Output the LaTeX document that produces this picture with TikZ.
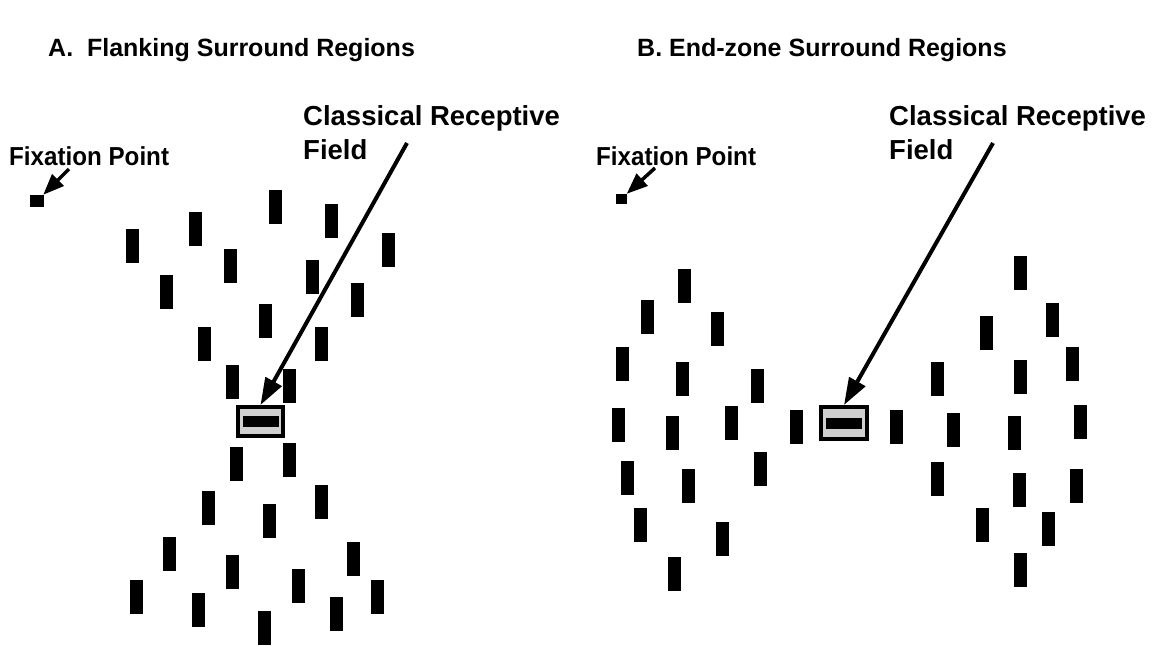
\documentclass[tikz,border=0pt]{standalone}
\usepackage{fontspec}
\setmainfont{Liberation Sans}
\newfontfamily\narrowfont[FakeStretch=0.93]{Liberation Sans}
\usetikzlibrary{arrows.meta}

\tikzset{
    lbl/.style={inner sep=0pt, font=\bfseries\fontsize{27.5}{34}\selectfont},
    fixlbl/.style={inner sep=0pt, anchor=base west, font=\narrowfont\bfseries\fontsize{26}{31}\selectfont},
    ttl/.style={inner sep=0pt, anchor=base west, font=\bfseries\fontsize{25}{30}\selectfont},
    fixpt/.style={fill=black, inner sep=0pt, minimum width=14pt, minimum height=12pt},
    crf/.style={draw=black, line width=4pt, fill=gray!38, inner sep=0pt},
    crfbar/.style={fill=black, inner sep=0pt, minimum width=36pt, minimum height=11pt},
    bigarrow/.style={line width=4pt, -{Triangle[length=27pt,width=18pt]}},
    smallarrow/.style={line width=3.5pt, -{Triangle[length=21pt,width=16pt]}},
}

\begin{document}
\begin{tikzpicture}[x=1pt, y=-1pt]
    \useasboundingbox (0,0) rectangle (1155,645);

    % A. flanking surround
    \node[ttl] (titleA) at (48,56) {A.\ \ Flanking Surround Regions};
    \node[fixlbl] (fixlblA) at (9,165) {Fixation Point};
    \node[lbl, anchor=north west, align=left] (crflblA) at (303,105) {Classical Receptive\\Field};
    \node[fixpt] (fixA) at (37,201) {};
    \foreach \x/\y in {132.5/245.5, 195/229, 275/207, 331/221, 388/250, 230/266, 312/277,
        166/292, 357/300, 265/321, 204/344, 321/344, 232/382, 289/386,
        236/464, 289/460, 208/508, 269/521, 321/502, 169/554, 232/572,
        298/586, 353/559, 136/597, 198/610, 264/628, 336/614, 377/597}
        \fill (\x-6.5,\y-17) rectangle ++(13,34);
    \node[crf, minimum width=45pt, minimum height=29pt] (crfA) at (260.5,421.5) {};
    \node[crfbar] (crfbarA) at (crfA) {};
    \coordinate (fixtailA) at (69,169);
    \coordinate (crftailA) at (407,143);
    \draw[smallarrow] (fixtailA) -- (fixA);
    \draw[bigarrow] (crftailA) -- (crfA.north);

    % B. end-zone surround
    \node[ttl] (titleB) at (637,56) {B. End-zone Surround Regions};
    \node[fixlbl] (fixlblB) at (596,165) {Fixation Point};
    \node[lbl, anchor=north west, align=left] (crflblB) at (889,105) {Classical Receptive\\Field};
    \node[fixpt, minimum width=11pt, minimum height=10pt] (fixB) at (621,199) {};
    \foreach \x/\y in {684.5/286, 647/317, 717/329, 622.5/364, 682/379, 757.5/386,
        618/424.5, 672/433, 731.5/423, 796.5/426.5, 627.5/478, 688/486,
        760/468.5, 640.5/525, 722/539, 674.5/573.5,
        1020.5/272.5, 1052.5/320, 986.5/332.5, 937/378.5, 1020.5/377, 1072/363.5,
        896.5/427, 953/429.5, 1014.5/433, 1080.5/421.5, 937/479, 1019.5/490,
        1076.5/485.5, 982/525, 1048/528.5, 1020/569.5}
        \fill (\x-6.5,\y-17) rectangle ++(13,34);
    \node[crf, minimum width=46pt, minimum height=32pt] (crfB) at (844,423) {};
    \node[crfbar] (crfbarB) at (crfB) {};
    \coordinate (fixtailB) at (655,168);
    \coordinate (crftailB) at (993,143);
    \draw[smallarrow] (fixtailB) -- (fixB);
    \draw[bigarrow] (crftailB) -- (crfB.north);
\end{tikzpicture}
\end{document}
